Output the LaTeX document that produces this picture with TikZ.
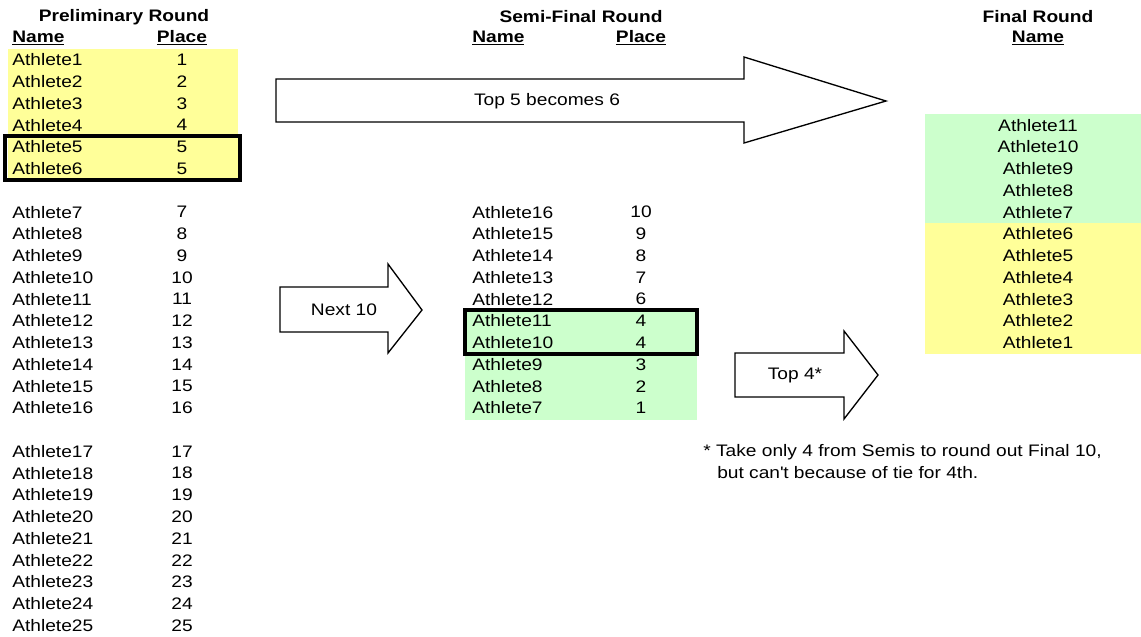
\documentclass[tikz,border=0pt]{standalone}
\usepackage{fontspec}
\setmainfont{Liberation Sans}[FakeStretch=1.15]
\definecolor{lightyel}{RGB}{255,255,153}
\definecolor{lightgrn}{RGB}{204,255,204}
\usetikzlibrary{positioning}

\begin{document}
\begin{tikzpicture}[x=0.75pt, y=-0.75pt,
    every node/.style={font=\fontsize{12.5}{14}\selectfont, inner sep=0pt},
    head/.style={font=\fontsize{12.5}{14}\selectfont\bfseries},
    namecell/.style={anchor=west},
    blockarrow/.style={draw=black, line width=1pt, fill=white},
    tiebox/.style={draw=black, line width=2.5pt}]
        \useasboundingbox (0,0) rectangle (1141,636);
        % shaded cells
        \fill[lightyel] (8,49) rectangle (238,180);
        \fill[lightgrn] (465,310) rectangle (697,420);
        \fill[lightgrn] (925,114) rectangle (1141,223);
        \fill[lightyel] (925,223) rectangle (1141,354);
        % headers
        \node[head] (prelim) at (124,17) {Preliminary Round};
        \node[head, anchor=west] (pname) at (12,38) {\underline{Name}};
        \node[head] (pplace) at (182,38) {\underline{Place}};
        \node[head] (semi) at (581,17) {Semi-Final Round};
        \node[head, anchor=west] (sname) at (472,38) {\underline{Name}};
        \node[head] (splace) at (641,38) {\underline{Place}};
        \node[head] (final) at (1038,17) {Final Round};
        \node[head] (fname) at (1038,38) {\underline{Name}};
        % preliminary round
        \foreach \n/\p in {1/1,2/2,3/3,4/4,5/5,6/5} {
          \node[namecell] (pn\n) at (12,{60+21.75*(\n-1)}) {Athlete\n};
          \node (pp\n) at (182,{60+21.75*(\n-1)}) {\p};
        }
        \foreach \n in {7,...,16} {
          \node[namecell] (pn\n) at (12,{60+21.75*\n}) {Athlete\n};
          \node (pp\n) at (182,{60+21.75*\n}) {\n};
        }
        \foreach \n in {17,...,25} {
          \node[namecell] (pn\n) at (12,{60+21.75*(\n+1)}) {Athlete\n};
          \node (pp\n) at (182,{60+21.75*(\n+1)}) {\n};
        }
        % semi-final round
        \foreach \n/\p in {16/10,15/9,14/8,13/7,12/6,11/4,10/4,9/3,8/2,7/1} {
          \node[namecell] (sn\n) at (472,{60+21.75*(23-\n)}) {Athlete\n};
          \node (sp\n) at (641,{60+21.75*(23-\n)}) {\p};
        }
        % final round
        \foreach \n in {11,10,...,1} {
          \node (fn\n) at (1038,{60+21.75*(14-\n)}) {Athlete\n};
        }
        % ties
        \draw[tiebox] (5,136) rectangle (240,180);
        \draw[tiebox] (465,310) rectangle (697,354);
        % block arrows
        \draw[blockarrow] (276,79) -- (744,79) -- (744,57) -- (886,101) -- (744,143) -- (744,122) -- (276,122) -- cycle;
        \node (top5) at (547,101) {Top 5 becomes 6};
        \draw[blockarrow] (280,287) -- (388,287) -- (388,264) -- (422,310) -- (388,353) -- (388,332) -- (280,332) -- cycle;
        \node (next10) at (344,310) {Next 10};
        \draw[blockarrow] (735,353) -- (844,353) -- (844,331) -- (878,375) -- (844,419) -- (844,397) -- (735,397) -- cycle;
        \node (top4) at (795,375) {Top 4*};
        % footnote
        \node[anchor=west] (note1) at (703,452) {* Take only 4 from Semis to round out Final 10,};
        \node[anchor=west] (note2) at (717,473) {but can\textquotesingle t because of tie for 4th.};
      \end{tikzpicture}
\end{document}
